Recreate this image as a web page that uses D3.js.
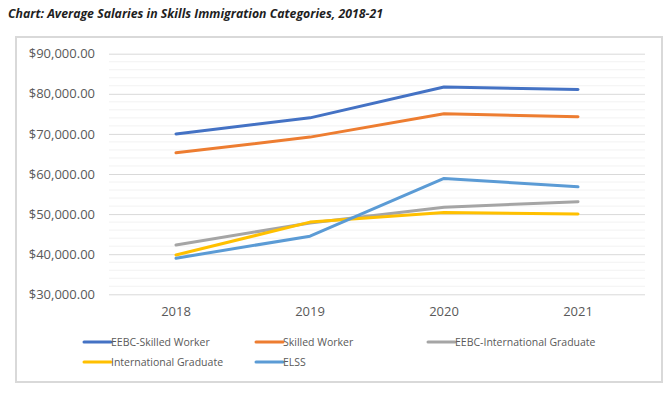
<!DOCTYPE html>
<html>
<head>
<meta charset="utf-8">
<script src="https://cdn.jsdelivr.net/npm/d3@7"></script>
<style>
  body { margin: 0; background: #fff; }
  text { font-family: "Open Sans", sans-serif; }
</style>
</head>
<body>
<svg width="670" height="394"></svg>
<script>
var years = ["2018", "2019", "2020", "2021"];
var seriesNames = ["EEBC-Skilled Worker", "Skilled Worker", "EEBC-International Graduate", "International Graduate", "ELSS"];
var eebcSkilled = [70000, 74000, 81700, 81100];
var skilled = [65300, 69200, 75000, 74300];
var eebcIntl = [42300, 47800, 51700, 53100];
var intlGrad = [39800, 48000, 50400, 50000];
var elss = [39000, 44500, 58900, 56800];
var colors = ["#4472C4", "#ED7D31", "#A5A5A5", "#FFC000", "#5B9BD5"];
var yTicks = [30000, 40000, 50000, 60000, 70000, 80000, 90000];

var allSeries = [eebcSkilled, skilled, eebcIntl, intlGrad, elss];

var svg = d3.select("svg");

// title
svg.append("text")
   .attr("x", 8).attr("y", 18)
   .attr("font-size", 13).attr("font-weight", "bold").attr("font-style", "italic")
   .attr("fill", "#1f1f1f")
   .attr("textLength", 375).attr("lengthAdjust", "spacingAndGlyphs")
   .text("Chart: Average Salaries in Skills Immigration Categories, 2018-21");

// chart frame
svg.append("rect")
   .attr("x", 16).attr("y", 37).attr("width", 646).attr("height", 345)
   .attr("fill", "#fff").attr("stroke", "#d9d9d9").attr("stroke-width", 2);

var x = d3.scaleBand().domain(years).range([109, 645]);
var y = d3.scaleLinear().domain([30000, 90000]).range([294.3, 53.7]);

// minor grid
var minor = d3.range(32000, 90000, 2000).filter(function(v){ return v % 10000 != 0; });
svg.append("g").selectAll("line").data(minor).enter().append("line")
   .attr("x1", 109).attr("x2", 645)
   .attr("y1", function(d){ return y(d); }).attr("y2", function(d){ return y(d); })
   .attr("stroke", "#f2f2f2").attr("stroke-width", 1);

// major grid + labels
var yAxis = d3.axisLeft(y).tickValues(yTicks)
              .tickSize(-536).tickPadding(14)
              .tickFormat(function(d){ return "$" + d3.format(",.2f")(d); });
var gy = svg.append("g").attr("transform", "translate(109,0)").call(yAxis);
gy.select(".domain").remove();
gy.selectAll("line").attr("stroke", "#d9d9d9");
gy.selectAll("text").attr("font-size", 13).attr("fill", "#595959")
  .attr("font-family", "Open Sans, sans-serif");

var xAxis = d3.axisBottom(x).tickSize(0).tickPadding(12);
var gx = svg.append("g").attr("transform", "translate(0,294.3)").call(xAxis);
gx.select(".domain").remove();
gx.selectAll("text").attr("font-size", 13).attr("fill", "#595959")
  .attr("font-family", "Open Sans, sans-serif");

// lines
var line = d3.line()
  .x(function(d, i){ return x(years[i]) + x.bandwidth() / 2; })
  .y(function(d){ return y(d); });

svg.append("g").selectAll("path").data(allSeries).enter().append("path")
   .attr("d", line)
   .attr("fill", "none")
   .attr("stroke", function(d, i){ return colors[i]; })
   .attr("stroke-width", 3)
   .attr("stroke-linecap", "round")
   .attr("stroke-linejoin", "round");

// legend
var legPos = [[84, 342], [256, 342], [428, 342], [84, 362], [256, 362]];
var leg = svg.append("g").selectAll("g").data(seriesNames).enter().append("g")
   .attr("transform", function(d, i){ return "translate(" + legPos[i][0] + "," + legPos[i][1] + ")"; });
leg.append("line")
   .attr("x1", 0).attr("x2", 27).attr("y1", 0).attr("y2", 0)
   .attr("stroke", function(d, i){ return colors[i]; })
   .attr("stroke-width", 3).attr("stroke-linecap", "round");
leg.append("text")
   .attr("x", 27).attr("y", 4)
   .attr("font-size", 10.5).attr("fill", "#595959")
   .text(function(d){ return d; });
</script>
</body>
</html>
